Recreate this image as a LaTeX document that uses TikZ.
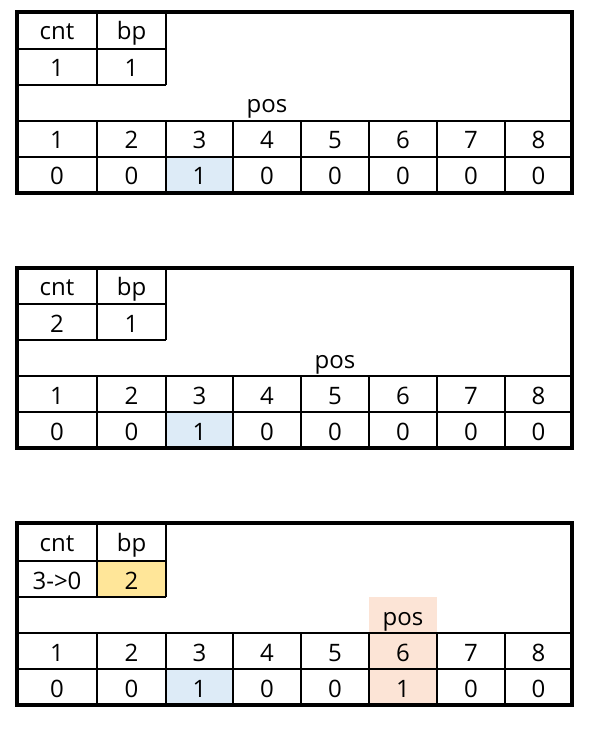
\documentclass[tikz,border=0pt]{standalone}
\usepackage{fontspec}
\setmainfont{Open Sans}
\definecolor{cellblue}{RGB}{221,235,247}
\definecolor{cellyellow}{RGB}{255,230,153}
\definecolor{cellpeach}{RGB}{252,228,214}
\tikzset{
  cell/.style={anchor=base, inner sep=0pt, font=\fontsize{18}{21}\selectfont},
  gridline/.style={line width=1.5pt},
  frameline/.style={line width=3pt}
}
\begin{document}
\begin{tikzpicture}[x=0.75pt,y=0.75pt,yscale=-1,xscale=1]
\useasboundingbox (0,0) rectangle (588,730);

%%%%%%%%%%%%%%%% first table: cnt = 1, bp = 1
%Fill
\fill [cellblue] (166,157) rectangle (233,193);
%Grid
\draw [gridline] (17,49) -- (166,49) (17,85) -- (166,85) (97,12) -- (97,85) (166,12) -- (166,85);
\draw [gridline] (17,121) -- (572,121) (17,157) -- (572,157);
\draw [gridline] (97,121) -- (97,193) (166,121) -- (166,193) (233,121) -- (233,193) (301,121) -- (301,193) (369,121) -- (369,193) (437,121) -- (437,193) (505,121) -- (505,193);
%Frame
\draw [frameline] (17,12) rectangle (572,193);
% Text Node
\node [cell] (aCnt) at (57,40) {cnt};
\node [cell] (aBp) at (131.5,40) {bp};
\node [cell] (aCntVal) at (57,77) {1};
\node [cell] (aBpVal) at (131.5,77) {1};
\node [cell] (aPos) at (267,113) {pos};
\node [cell] (aIdx1) at (57,149) {1};
\node [cell] (aIdx2) at (131.5,149) {2};
\node [cell] (aIdx3) at (199.5,149) {3};
\node [cell] (aIdx4) at (267,149) {4};
\node [cell] (aIdx5) at (335,149) {5};
\node [cell] (aIdx6) at (403,149) {6};
\node [cell] (aIdx7) at (471,149) {7};
\node [cell] (aIdx8) at (538.5,149) {8};
\node [cell] (aVal1) at (57,185) {0};
\node [cell] (aVal2) at (131.5,185) {0};
\node [cell] (aVal3) at (199.5,185) {1};
\node [cell] (aVal4) at (267,185) {0};
\node [cell] (aVal5) at (335,185) {0};
\node [cell] (aVal6) at (403,185) {0};
\node [cell] (aVal7) at (471,185) {0};
\node [cell] (aVal8) at (538.5,185) {0};

%%%%%%%%%%%%%%%% second table: cnt = 2, bp = 1
%Fill
\fill [cellblue] (166,412) rectangle (233,448);
%Grid
\draw [gridline] (17,304) -- (166,304) (17,340) -- (166,340) (97,268) -- (97,340) (166,268) -- (166,340);
\draw [gridline] (17,376) -- (572,376) (17,412) -- (572,412);
\draw [gridline] (97,376) -- (97,448) (166,376) -- (166,448) (233,376) -- (233,448) (301,376) -- (301,448) (369,376) -- (369,448) (437,376) -- (437,448) (505,376) -- (505,448);
%Frame
\draw [frameline] (17,268) rectangle (572,448);
% Text Node
\node [cell] (bCnt) at (57,296) {cnt};
\node [cell] (bBp) at (131.5,296) {bp};
\node [cell] (bCntVal) at (57,332) {2};
\node [cell] (bBpVal) at (131.5,332) {1};
\node [cell] (bPos) at (335,368) {pos};
\node [cell] (bIdx1) at (57,404) {1};
\node [cell] (bIdx2) at (131.5,404) {2};
\node [cell] (bIdx3) at (199.5,404) {3};
\node [cell] (bIdx4) at (267,404) {4};
\node [cell] (bIdx5) at (335,404) {5};
\node [cell] (bIdx6) at (403,404) {6};
\node [cell] (bIdx7) at (471,404) {7};
\node [cell] (bIdx8) at (538.5,404) {8};
\node [cell] (bVal1) at (57,440) {0};
\node [cell] (bVal2) at (131.5,440) {0};
\node [cell] (bVal3) at (199.5,440) {1};
\node [cell] (bVal4) at (267,440) {0};
\node [cell] (bVal5) at (335,440) {0};
\node [cell] (bVal6) at (403,440) {0};
\node [cell] (bVal7) at (471,440) {0};
\node [cell] (bVal8) at (538.5,440) {0};

%%%%%%%%%%%%%%%% third table: cnt = 3->0, bp = 2
%Fill
\fill [cellblue] (166,669) rectangle (233,705);
\fill [cellyellow] (97,561) rectangle (166,597);
\fill [cellpeach] (369,597) rectangle (437,705);
%Grid
\draw [gridline] (17,561) -- (166,561) (17,597) -- (166,597) (97,523) -- (97,597) (166,523) -- (166,597);
\draw [gridline] (17,633) -- (572,633) (17,669) -- (572,669);
\draw [gridline] (97,633) -- (97,705) (166,633) -- (166,705) (233,633) -- (233,705) (301,633) -- (301,705) (369,633) -- (369,705) (437,633) -- (437,705) (505,633) -- (505,705);
%Frame
\draw [frameline] (17,523) rectangle (572,705);
% Text Node
\node [cell] (cCnt) at (57,551) {cnt};
\node [cell] (cBp) at (131.5,551) {bp};
\node [cell] (cCntVal) at (57,589) {3->0};
\node [cell] (cBpVal) at (131.5,589) {2};
\node [cell] (cPos) at (403,625) {pos};
\node [cell] (cIdx1) at (57,661) {1};
\node [cell] (cIdx2) at (131.5,661) {2};
\node [cell] (cIdx3) at (199.5,661) {3};
\node [cell] (cIdx4) at (267,661) {4};
\node [cell] (cIdx5) at (335,661) {5};
\node [cell] (cIdx6) at (403,661) {6};
\node [cell] (cIdx7) at (471,661) {7};
\node [cell] (cIdx8) at (538.5,661) {8};
\node [cell] (cVal1) at (57,697) {0};
\node [cell] (cVal2) at (131.5,697) {0};
\node [cell] (cVal3) at (199.5,697) {1};
\node [cell] (cVal4) at (267,697) {0};
\node [cell] (cVal5) at (335,697) {0};
\node [cell] (cVal6) at (403,697) {1};
\node [cell] (cVal7) at (471,697) {0};
\node [cell] (cVal8) at (538.5,697) {0};

\end{tikzpicture}
\end{document}
